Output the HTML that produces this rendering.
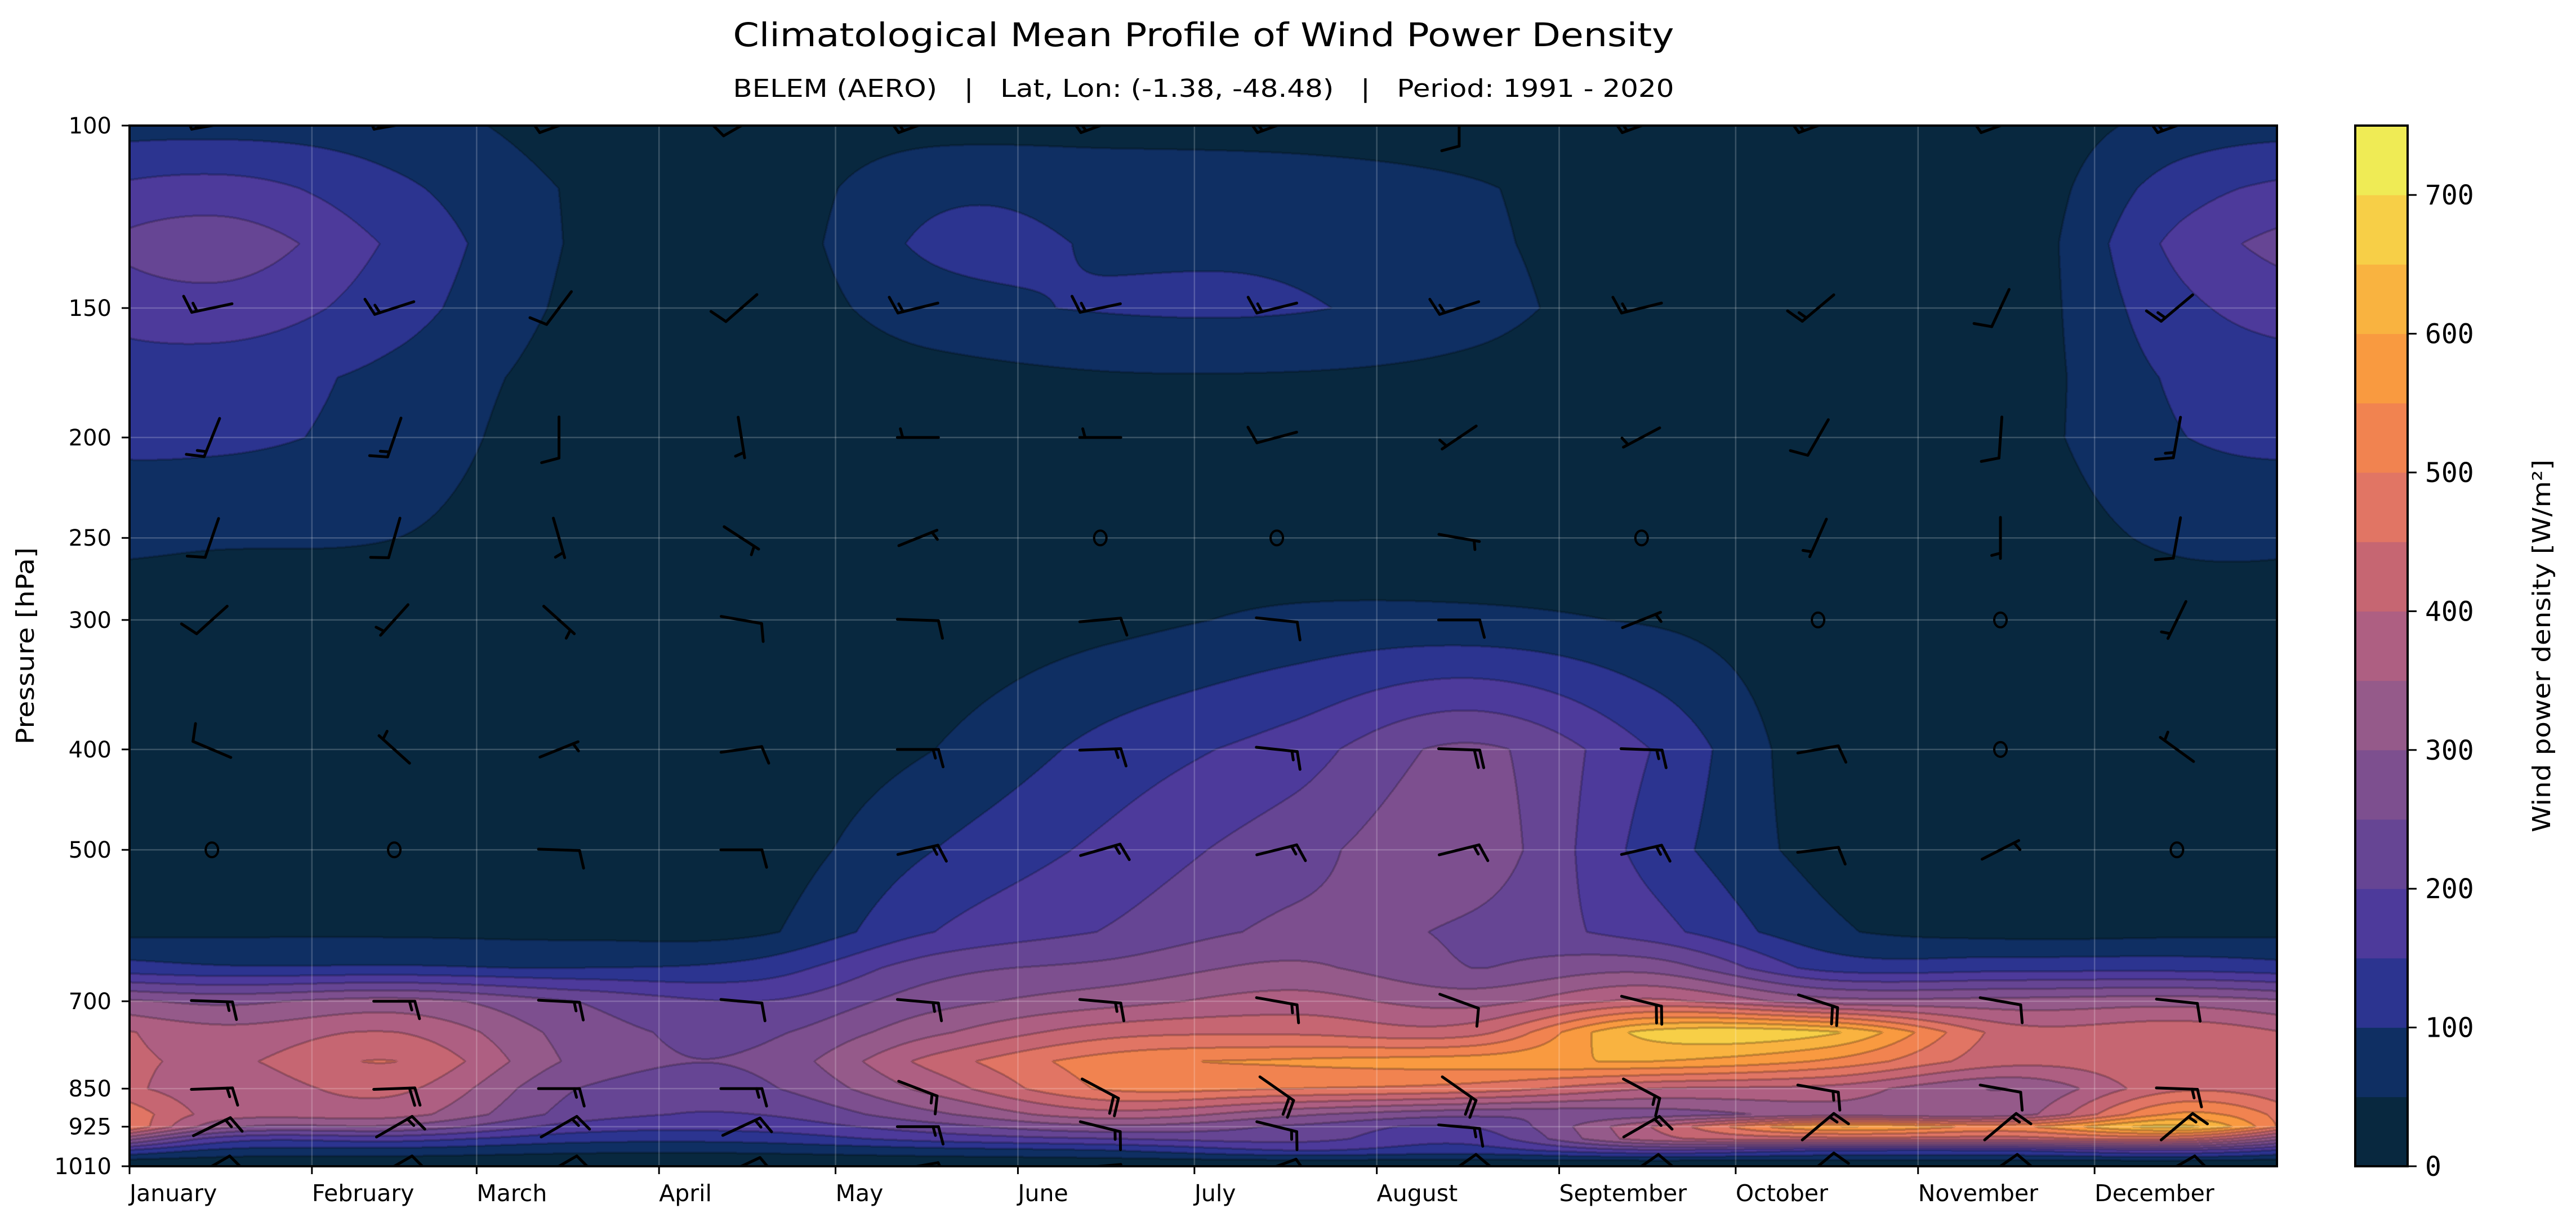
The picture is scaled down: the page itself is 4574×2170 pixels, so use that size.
<!DOCTYPE html>
<html><head><meta charset="utf-8">
<style>
html,body{margin:0;padding:0;background:#fff;}
#wrap{position:relative;width:4574px;height:2170px;overflow:hidden;background:#fff;}
#field{position:absolute;left:230px;top:223px;}
#ov{position:absolute;left:0;top:0;}
</style></head>
<body>
<div id="wrap">
<canvas id="field" width="3813" height="1848"></canvas>
<svg id="ov" width="4574" height="2170" xmlns="http://www.w3.org/2000/svg">
<defs><clipPath id="plotclip"><rect x="230" y="223" width="3813" height="1848"/></clipPath></defs>
<text x="2137" y="82" text-anchor="middle" font-family="DejaVu Sans, Liberation Sans, sans-serif" font-size="58" textLength="1671" lengthAdjust="spacingAndGlyphs">Climatological Mean Profile of Wind Power Density</text>
<text x="2137" y="172" text-anchor="middle" font-family="DejaVu Sans, Liberation Sans, sans-serif" font-size="44" textLength="1671" lengthAdjust="spacingAndGlyphs" xml:space="preserve">BELEM (AERO)   |   Lat, Lon: (-1.38, -48.48)   |   Period: 1991 - 2020</text>
<g id="grid"></g>
<g id="barbs" clip-path="url(#plotclip)"></g>
<rect x="230" y="223" width="3813" height="1848" fill="none" stroke="#000" stroke-width="4"/>
<g id="yaxis"></g>
<g id="xaxis"></g>
<text transform="translate(60,1147) rotate(-90)" text-anchor="middle" font-family="DejaVu Sans, Liberation Sans, sans-serif" font-size="44" textLength="350" lengthAdjust="spacingAndGlyphs">Pressure [hPa]</text>
<g id="cbar"></g>
<text transform="translate(4528,1147) rotate(-90)" text-anchor="middle" font-family="DejaVu Sans, Liberation Sans, sans-serif" font-size="44" textLength="662" lengthAdjust="spacingAndGlyphs">Wind power density [W/m²]</text>
</svg>
</div>
<script>
// ---- data ----
const pressureLevels = [100,115,130,150,175,200,250,300,400,500,600,650,700,750,800,850,900,925,950,975,1000,1010];
const wpdJan = [80,170,230,180,120,110,55,20,15,20,40,105,290,370,390,370,380,320,180,90,20,15];
const wpdFeb = [70,110,140,120,85,80,50,20,10,15,40,105,320,400,450,410,370,290,170,80,20,15];
const wpdMar = [30,45,45,40,30,20,15,10,10,15,35,100,250,280,290,250,230,180,120,60,20,15];
const wpdApr = [20,20,20,20,15,15,10,10,10,20,40,120,200,240,260,240,200,170,120,60,20,15];
const wpdMay = [30,90,110,80,30,15,15,15,50,100,150,230,280,340,420,370,290,230,170,80,20,15];
const wpdJun = [30,85,95,105,45,20,15,35,120,165,205,265,330,430,530,510,380,290,200,100,25,15];
const wpdJul = [30,75,90,105,45,20,10,60,175,230,260,310,370,440,560,500,310,240,220,150,30,15];
const wpdAug = [25,55,60,70,35,15,10,60,260,280,240,250,330,430,580,480,260,200,170,130,30,15];
const wpdSep = [20,20,20,20,15,15,10,45,150,130,170,280,410,670,600,400,270,400,380,190,30,15];
const wpdOct = [15,15,15,15,15,15,10,15,15,30,60,130,320,660,540,380,320,600,430,150,30,15];
const wpdNov = [15,15,15,20,25,30,20,10,10,20,30,130,320,430,420,300,320,540,430,150,30,15];
const wpdDec = [70,130,170,140,110,100,60,20,10,15,35,130,330,440,440,440,560,660,450,190,30,15];
const monthlyProfiles = [wpdJan,wpdFeb,wpdMar,wpdApr,wpdMay,wpdJun,wpdJul,wpdAug,wpdSep,wpdOct,wpdNov,wpdDec];
const monthNames = ["January","February","March","April","May","June","July","August","September","October","November","December"];
const monthStartDays = [0,31,59,90,120,151,181,212,243,273,304,334];
const yTickLabels = [100,150,200,250,300,400,500,700,850,925,1010];
const cbarTicks = [0,100,200,300,400,500,600,700];
const bandColors = ["#08283f","#0f2f63","#2c3490","#4d3a9b","#664594","#7d4f8f","#955a8a","#ae5f82","#c66672","#e17564","#f18350","#f99a40","#f9b340","#f7cf47","#efeb55"];
const barbLevels = [100,150,200,250,300,400,500,700,850,925,1010];
const dir100 = [260,260,250,240,250,250,250,180,250,250,250,250];
const spd100 = [15,15,10,10,15,15,15,10,15,15,10,15];
const dir150 = [258,252,217,229,256,258,256,252,256,230,205,230];
const spd150 = [15,15,10,10,15,15,15,15,15,15,10,15];
const dir200 = [202,199,180,171,270,270,255,236,242,210,184,190];
const spd200 = [15,15,10,5,5,5,10,5,5,10,10,15];
const dir250 = [199,196,164,123,68,0,0,100,0,204,180,190];
const spd250 = [10,10,5,5,5,0,0,5,0,5,5,10];
const dir300 = [228,222,132,100,92,85,96,90,68,0,0,206];
const spd300 = [10,5,5,10,10,10,10,10,5,0,0,5];
const dir400 = [293,312,68,82,90,88,96,92,92,80,0,306];
const spd400 = [10,5,5,10,15,15,15,20,15,10,0,5];
const dir500 = [0,0,92,90,77,74,76,76,77,83,63,0];
const spd500 = [0,0,10,10,15,15,15,15,15,10,5,0];
const dir700 = [92,90,93,95,95,95,100,110,104,108,100,96];
const spd700 = [15,15,15,10,15,15,15,10,20,20,10,10];
const dir850 = [88,88,90,90,111,118,125,125,118,100,100,92];
const spd850 = [15,20,15,15,15,20,20,20,15,15,10,15];
const dir925 = [64,60,60,65,90,104,104,95,60,50,50,50];
const spd925 = [15,15,15,15,15,15,15,15,15,15,15,15];
const dir1010 = [60,60,60,65,80,85,70,55,55,50,55,60];
const spd1010 = [10,10,10,10,10,10,10,10,10,10,10,10];
const barbDirs = [dir100,dir150,dir200,dir250,dir300,dir400,dir500,dir700,dir850,dir925,dir1010];
const barbSpds = [spd100,spd150,spd200,spd250,spd300,spd400,spd500,spd700,spd850,spd925,spd1010];

// ---- axes ----
const PL=230, PT=223, PW=3813, PH=1848, VMAX=750;
const LNR = Math.log(10.1);
function yOf(p){ return PT + PH*Math.log(p/100)/LNR; }
function xOf(day){ return PL + day*PW/365; }
const NS="http://www.w3.org/2000/svg";
function mk(tag, attrs, parent){ const e=document.createElementNS(NS,tag); for(const k in attrs) e.setAttribute(k,attrs[k]); parent.appendChild(e); return e; }

// ---- field ----
(function(){
  const W=PW,H=PH;
  const cv=document.getElementById('field'); const ctx=cv.getContext('2d');
  const img=ctx.createImageData(W,H); const d=img.data;
  const lnLev=pressureLevels.map(p=>Math.log(p/100));
  const nL=pressureLevels.length;
  const rowI=new Int16Array(H), rowF=new Float32Array(H);
  for(let y=0;y<H;y++){ const lp=(y+0.5)/H*LNR; let i=0; while(i<nL-2 && lnLev[i+1]<lp) i++; rowI[y]=i; rowF[y]=Math.min(1,Math.max(0,(lp-lnLev[i])/(lnLev[i+1]-lnLev[i]))); }
  const band=new Uint8Array(W*H);
  const prof=new Float32Array(nL);
  for(let x=0;x<W;x++){
    const day=(x+0.5)/W*365;
    let t=(day-15.2)/30.4167; t=((t%12)+12)%12;
    const i1=Math.floor(t), u=t-i1;
    const i0=(i1+11)%12, i2=(i1+1)%12, i3=(i1+2)%12;
    const a=monthlyProfiles[i0],b=monthlyProfiles[i1],c=monthlyProfiles[i2],e=monthlyProfiles[i3];
    const u2=u*u,u3=u2*u;
    for(let k=0;k<nL;k++){
      prof[k]=0.5*((2*b[k])+(-a[k]+c[k])*u+(2*a[k]-5*b[k]+4*c[k]-e[k])*u2+(-a[k]+3*b[k]-3*c[k]+e[k])*u3);
    }
    for(let y=0;y<H;y++){
      const i=rowI[y],f=rowF[y];
      const v=prof[i]*(1-f)+prof[i+1]*f;
      let bb=Math.floor(v/50); if(bb<0)bb=0; if(bb>14)bb=14;
      band[y*W+x]=bb;
    }
  }
  const rgb=bandColors.map(h=>[parseInt(h.substr(1,2),16),parseInt(h.substr(3,2),16),parseInt(h.substr(5,2),16)]);
  for(let y=0;y<H;y++){
    for(let x=0;x<W;x++){
      const idx=y*W+x, bb=band[idx];
      let edge=false;
      if(x>1 && band[idx-2]!==bb) edge=true;
      else if(x<W-2 && band[idx+2]!==bb) edge=true;
      else if(y>1 && band[idx-2*W]!==bb) edge=true;
      else if(y<H-2 && band[idx+2*W]!==bb) edge=true;
      const c=rgb[bb]; const m=edge?0.78:1;
      const o=idx*4; d[o]=c[0]*m; d[o+1]=c[1]*m; d[o+2]=c[2]*m; d[o+3]=255;
    }
  }
  ctx.putImageData(img,0,0);
})();

// ---- grid ----
const grid=document.getElementById('grid');
monthStartDays.forEach((md,i)=>{
  const x=xOf(md);
  const l=mk('line',{x1:x,x2:x,y1:PT,y2:PT+PH,stroke:'rgba(255,255,255,0.2)','stroke-width':2.5},grid);
  
  
});
yTickLabels.forEach(p=>{
  const y=yOf(p);
  const l=mk('line',{x1:PL,x2:PL+PW,y1:y,y2:y,stroke:'rgba(255,255,255,0.2)','stroke-width':2.5},grid);
  
  
});

// ---- y axis ----
const yax=document.getElementById('yaxis');
yTickLabels.forEach(p=>{
  const y=yOf(p);
  const t=mk('line',{x1:PL-14,x2:PL,y1:y,y2:y,stroke:'#000','stroke-width':3},yax);
  
  
  const tx=mk('text',{x:198,y:y+14,'text-anchor':'end','font-family':'DejaVu Sans, Liberation Sans, sans-serif','font-size':40},yax);
  tx.textContent=String(p);
  
  
});

// ---- x axis ----
const xax=document.getElementById('xaxis');
monthStartDays.forEach((md,i)=>{
  const x=xOf(md);
  const t=mk('line',{x1:x,x2:x,y1:PT+PH,y2:PT+PH+14,stroke:'#000','stroke-width':3},xax);
  
  
  const tx=mk('text',{x:x,y:2133,'text-anchor':'start','font-family':'DejaVu Sans, Liberation Sans, sans-serif','font-size':41},xax);
  tx.textContent=monthNames[i];
  
  
});

// ---- barbs ----
const barbsG=document.getElementById('barbs');
const SH=73, FULL=32, HALF=16, SP=9.5;
barbLevels.forEach((p,li)=>{
  const yc=yOf(p);
  for(let m=0;m<12;m++){
    const xc=xOf(monthStartDays[m]+14);
    const spd=barbSpds[li][m], th=barbDirs[li][m]*Math.PI/180;
    const g=mk('g',{stroke:'#000','stroke-width':5,fill:'none','stroke-linecap':'round'},barbsG);
    
    
    if(spd<2.5){ mk('ellipse',{cx:xc,cy:yc,rx:11,ry:13,'stroke-width':4},g); continue; }
    const dx=Math.sin(th), dy=-Math.cos(th);
    const bx=-dy, by=dx;
    const ex=xc+dx*SH/2, ey=yc+dy*SH/2;
    mk('line',{x1:xc-dx*SH/2,y1:yc-dy*SH/2,x2:ex,y2:ey},g);
    const ca=Math.cos(0.26), sa=Math.sin(0.26);
    const vx=bx*ca+dx*sa, vy=by*ca+dy*sa;
    let nf=Math.floor(spd/10), nh=(spd%10>=5)?1:0;
    let pos=0;
    for(let k=0;k<nf;k++){ const px=ex-dx*pos, py=ey-dy*pos; mk('line',{x1:px,y1:py,x2:px+vx*FULL,y2:py+vy*FULL},g); pos+=SP; }
    if(nh){ if(nf===0) pos=SP; const px=ex-dx*pos, py=ey-dy*pos; mk('line',{x1:px,y1:py,x2:px+vx*HALF,y2:py+vy*HALF},g); }
  }
});

// ---- colorbar ----
const cb=document.getElementById('cbar');
const CX=4182, CW=93;
function cy(v){ return PT+PH - v/VMAX*PH; }
bandColors.forEach((c,i)=>{
  const y0=cy((i+1)*50), y1=cy(i*50);
  const r=mk('rect',{x:CX,y:y0,width:CW,height:y1-y0+0.5,fill:c},cb);
  
  
});
const fr=mk('rect',{x:CX,y:PT,width:CW,height:PH,fill:'none',stroke:'#000','stroke-width':4},cb);


cbarTicks.forEach(v=>{
  const y=cy(v);
  const t=mk('line',{x1:CX+CW,x2:CX+CW+16,y1:y,y2:y,stroke:'#000','stroke-width':3},cb);
  
  
  const tx=mk('text',{x:4306,y:y+17,'font-family':'DejaVu Sans Mono, Liberation Mono, monospace','font-size':48},cb);
  tx.textContent=String(v);
  
  
});
</script>
</body></html>
